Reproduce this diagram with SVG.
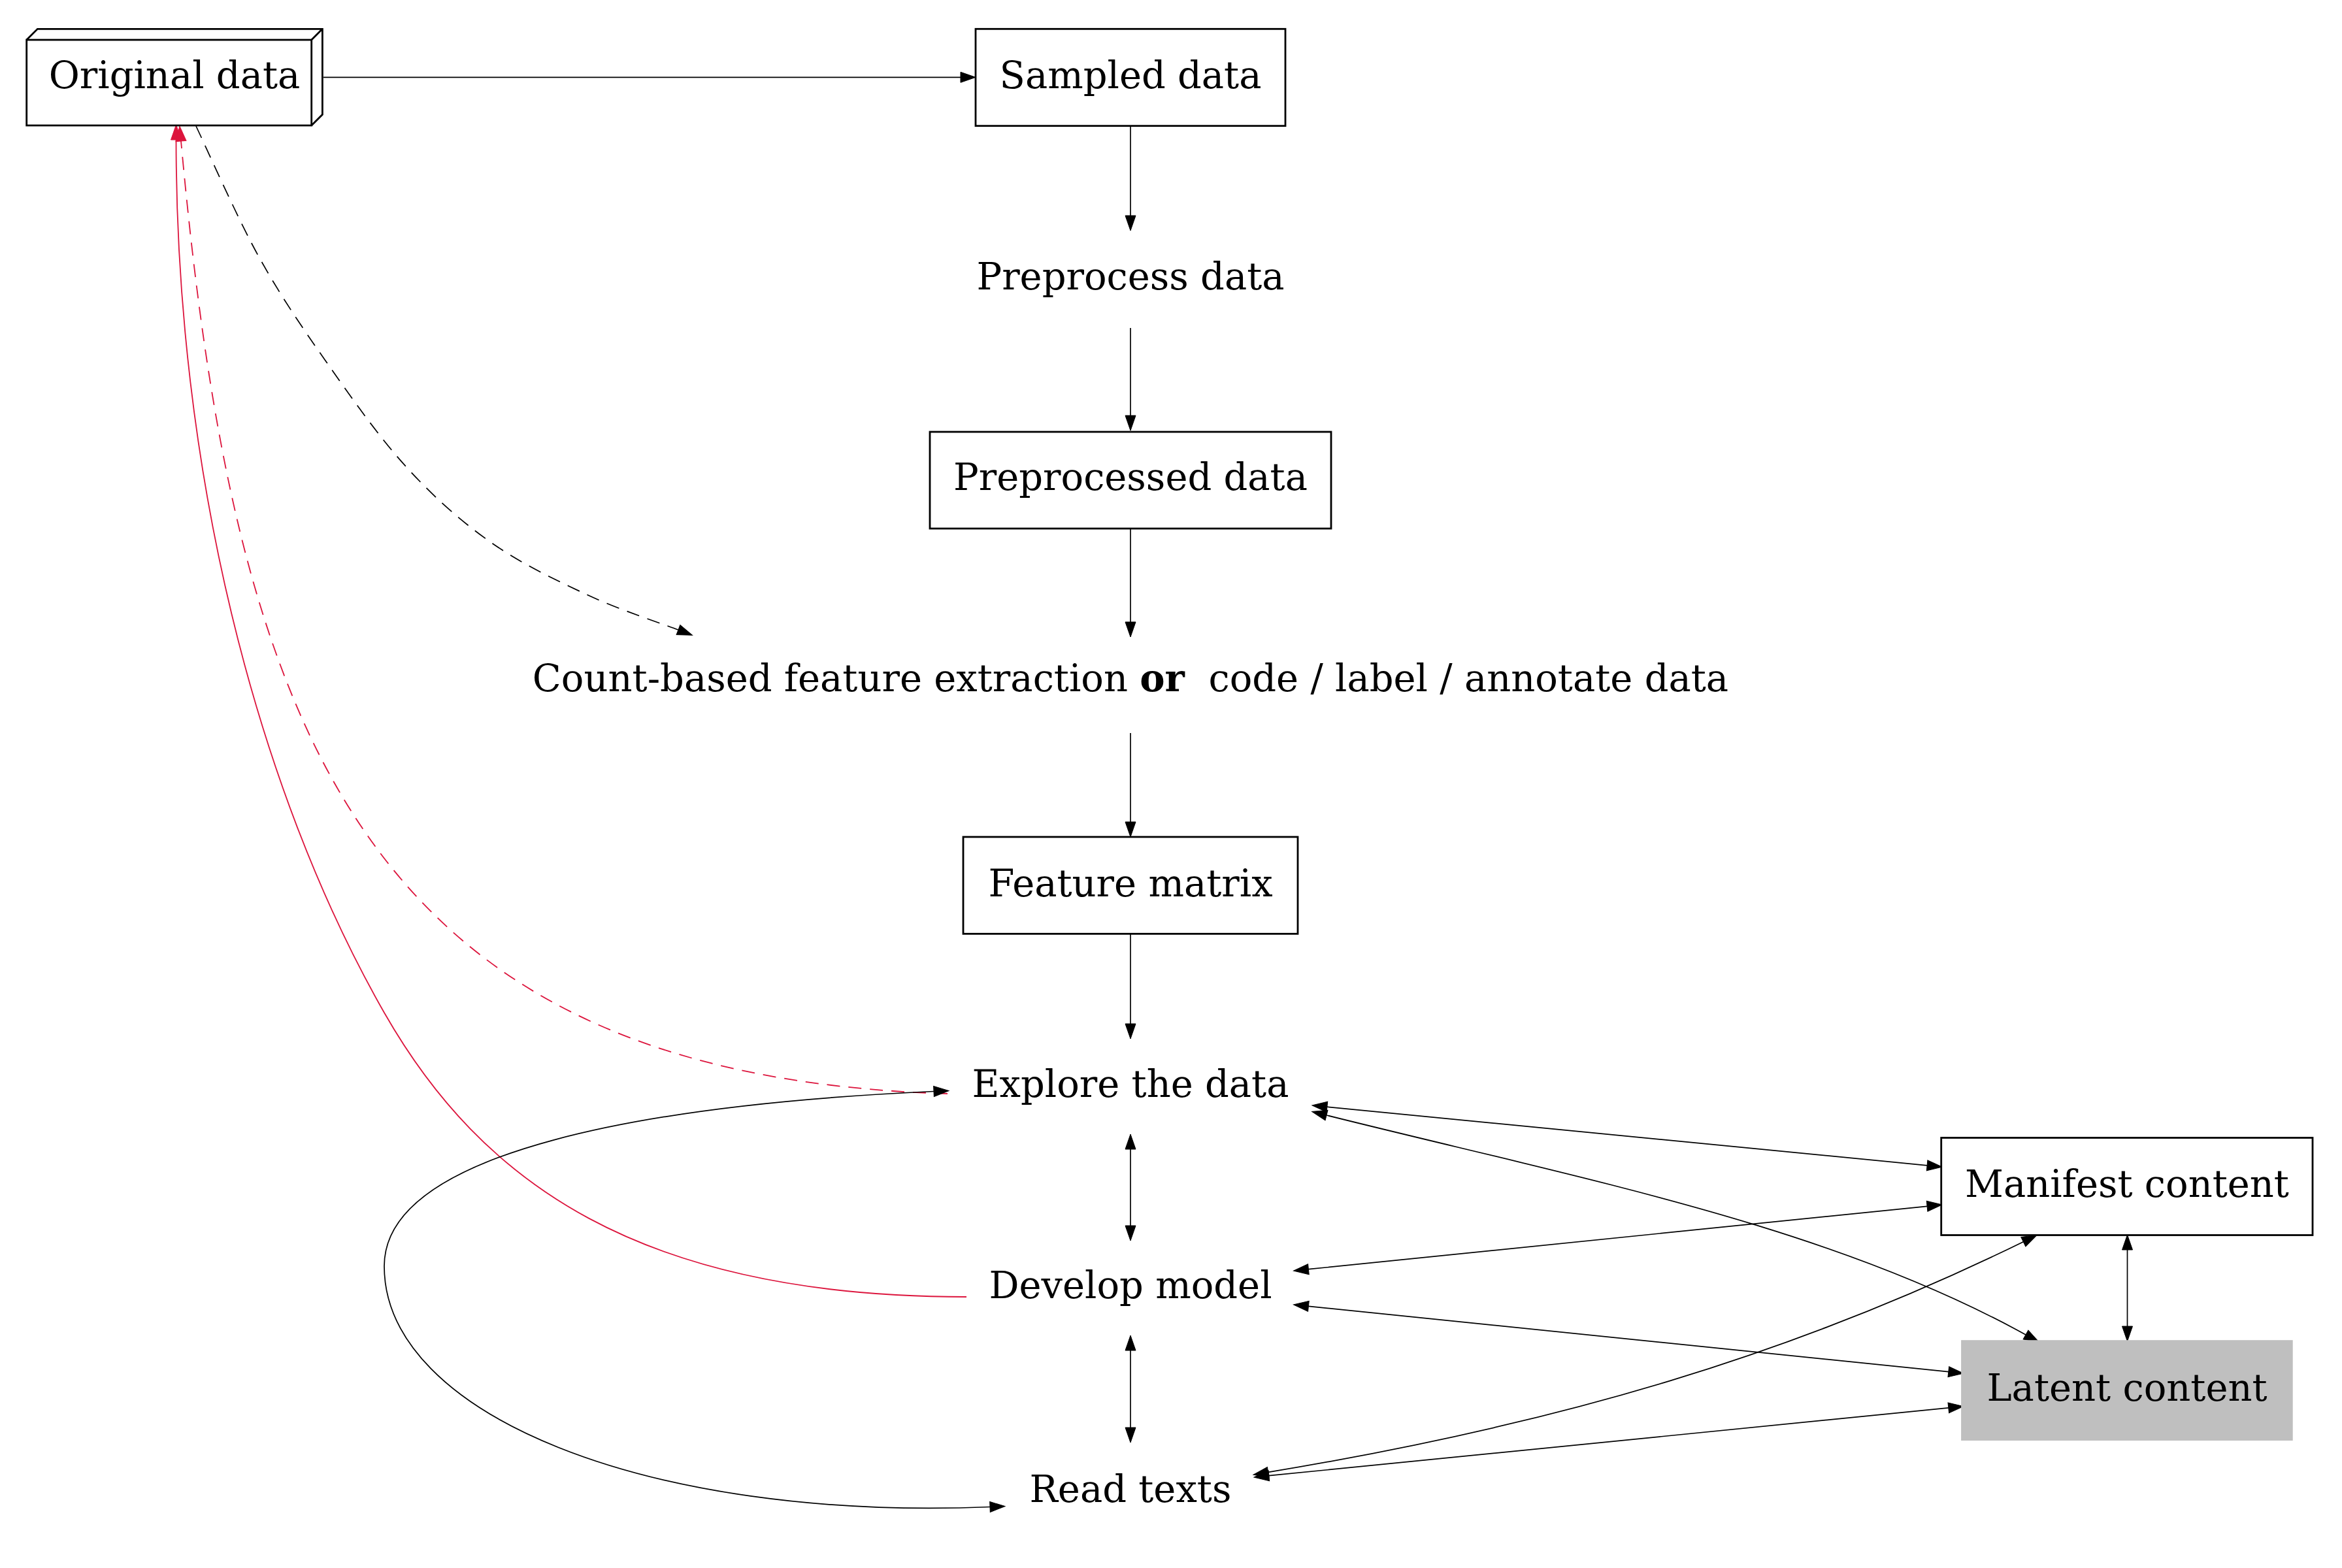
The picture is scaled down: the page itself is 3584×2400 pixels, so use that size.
<svg xmlns="http://www.w3.org/2000/svg" width="3584" height="2400" viewBox="0 0 3584 2400">
<style>
text{font-family:"DejaVu Serif",serif;font-size:57.5px;fill:#000;text-anchor:middle}
.box{fill:#fff;stroke:#000;stroke-width:2.8}
.ln{fill:none;stroke:#000;stroke-width:2.8;stroke-linejoin:miter}
.e{fill:none;stroke:#000;stroke-width:1.7}
.r{fill:none;stroke:#dc143c;stroke-width:1.8}
.d{stroke-dasharray:20,13}
</style>
<defs>
<marker id="ah" markerUnits="userSpaceOnUse" markerWidth="23" markerHeight="16" viewBox="0 0 23 16" refX="0" refY="8" orient="auto-start-reverse" overflow="visible"><path d="M0,0 L23,8 L0,16 z" fill="#000" stroke="#000" stroke-width="1"/></marker>
<marker id="ar" markerUnits="userSpaceOnUse" markerWidth="23" markerHeight="16" viewBox="0 0 23 16" refX="0" refY="8" orient="auto-start-reverse" overflow="visible"><path d="M0,0 L23,8 L0,16 z" fill="#dc143c" stroke="#dc143c" stroke-width="1"/></marker>
</defs>
<rect width="3584" height="2400" fill="#fff"/>
<g id="connectors">
<path class="e" d="M495,118.3 L1470,118.3" marker-end="url(#ah)"/>
<path class="e" d="M1730,193 L1730,330" marker-end="url(#ah)"/>
<path class="e" d="M1730,502 L1730,636" marker-end="url(#ah)"/>
<path class="e" d="M1730,809 L1730,952" marker-end="url(#ah)"/>
<path class="e" d="M1730,1122 L1730,1258" marker-end="url(#ah)"/>
<path class="e" d="M1730,1429 L1730,1567" marker-end="url(#ah)"/>
<path class="e" d="M1730,1759 L1730,1876" marker-start="url(#ah)" marker-end="url(#ah)"/>
<path class="e" d="M1730,2067 L1730,2185" marker-start="url(#ah)" marker-end="url(#ah)"/>
<path class="e" d="M3255.5,1913 L3255.5,2030" marker-start="url(#ah)" marker-end="url(#ah)"/>
<path class="e" d="M2030.9,1694.2 L2949.1,1783.8" marker-start="url(#ah)" marker-end="url(#ah)"/>
<path class="e" d="M2002.4,1942.7 L2949.1,1846.3" marker-start="url(#ah)" marker-end="url(#ah)"/>
<path class="e" d="M2002.4,1999.3 L2981.8,2099.7" marker-start="url(#ah)" marker-end="url(#ah)"/>
<path class="e" d="M1941.9,2258.7 L2981.8,2154.9" marker-start="url(#ah)" marker-end="url(#ah)"/>
<path class="e" d="M2030,1707 C2430,1807 2800,1877 3100,2043" marker-start="url(#ah)" marker-end="url(#ah)"/>
<path class="e" d="M1940.7,2253.4 C2390.7,2178.7 2746.3,2072.2 3096.3,1900.7" marker-start="url(#ah)" marker-end="url(#ah)"/>
<path class="e d" d="M300,193 C315.8,226 362,331.2 395,391 C428,450.8 460.2,498 498,552 C535.8,606 579.8,668.7 622,715 C664.2,761.3 704.7,797.3 751,830 C797.3,862.7 852.2,888.7 900,911 C947.8,933.3 1015,955.2 1038,964" marker-end="url(#ah)"/>
<path class="r" d="M1479,1985 C979,1985 736.8,1810.4 588,1550 C389.6,1202.8 269.5,714 269.5,214" marker-end="url(#ar)"/>
<path class="r d" d="M1450,1674 C550,1647 359,1112 277,216" marker-end="url(#ar)"/>
<path class="e" d="M1429,1670.5 C1000,1690 588,1760 588,1938 C588,2165 990,2328 1515,2306.5" marker-start="url(#ah)" marker-end="url(#ah)"/>
</g>
<g id="original">
<rect class="box" x="40.7" y="61" width="436" height="131"/>
<path class="ln" d="M40.7,61 L57.4,44.3 L493.4,44.3 L493.4,175.3 L476.7,192 M476.7,61 L493.4,44.3"/>
<text x="267" y="135">Original data</text>
</g>
<g id="sampled">
<rect class="box" x="1493" y="44.3" width="474" height="148.4"/>
<text x="1730" y="135">Sampled data</text>
</g>
<g id="preprocess">
<text x="1730" y="443">Preprocess data</text>
</g>
<g id="preprocessed">
<rect class="box" x="1423" y="661" width="614" height="148"/>
<text x="1730" y="750">Preprocessed data</text>
</g>
<g id="extract">
<text x="1730" y="1058" xml:space="preserve" style="white-space:pre">Count-based feature extraction <tspan font-weight="bold">or</tspan>  code / label / annotate data</text>
</g>
<g id="feature">
<rect class="box" x="1474" y="1281" width="512" height="148.3"/>
<text x="1730" y="1372">Feature matrix</text>
</g>
<g id="explore">
<text x="1730" y="1679">Explore the data</text>
</g>
<g id="develop">
<text x="1730" y="1987">Develop model</text>
</g>
<g id="read">
<text x="1730" y="2299">Read texts</text>
</g>
<g id="manifest">
<rect class="box" x="2970.7" y="1741.5" width="568.3" height="149"/>
<text x="3255" y="1832">Manifest content</text>
</g>
<g id="latent">
<rect x="3002.5" y="2052.6" width="504.8" height="151" fill="#bfbfbf" stroke="#bfbfbf" stroke-width="2.8"/>
<text x="3255" y="2144">Latent content</text>
</g>
</svg>
